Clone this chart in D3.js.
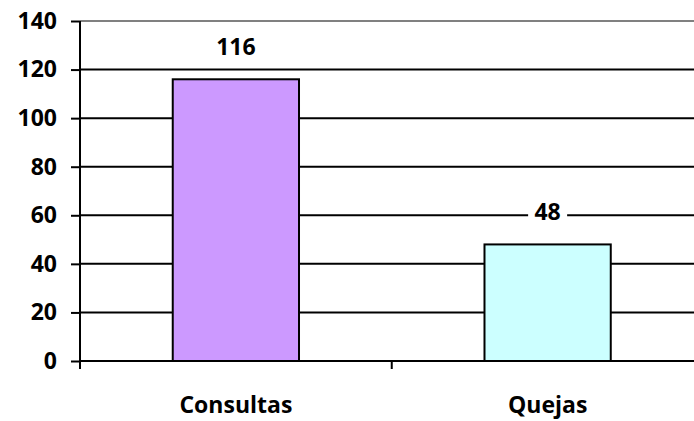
<!DOCTYPE html>
<html><head><meta charset="utf-8">
<script src="https://cdn.jsdelivr.net/npm/d3@7"></script>
<style>body{margin:0;background:#fff}svg{display:block}</style>
</head><body>
<script>
const categories = ["Consultas", "Quejas"];
const values = [116, 48];
const colors = ["#CC99FF", "#CCFFFF"];
const yTicks = [0, 20, 40, 60, 80, 100, 120, 140];

const W = 694, H = 421;
const svg = d3.select("body").append("svg").attr("width", W).attr("height", H);
const font = "'Open Sans', sans-serif";
const fs = 23;
const x = d3.scaleBand().domain(categories).range([80, 703.5]).paddingInner(0).paddingOuter(0);
const y = d3.scaleLinear().domain([0, 140]).range([361, 21]);

// gridlines
svg.append("g").selectAll("line").data(yTicks.filter(d => d > 0)).join("line")
  .attr("x1", 80).attr("x2", W + 20)
  .attr("y1", d => y(d)).attr("y2", d => y(d))
  .attr("stroke", d => d === 140 ? "#808080" : "#000").attr("stroke-width", 2);

// bars
const bw = x.bandwidth() * 0.405;
svg.append("g").selectAll("rect").data(categories).join("rect")
  .attr("x", d => x(d) + x.bandwidth() / 2 - bw / 2)
  .attr("width", bw)
  .attr("y", (d, i) => y(values[i]))
  .attr("height", (d, i) => y(0) - y(values[i]))
  .attr("fill", (d, i) => colors[i])
  .attr("stroke", "#000").attr("stroke-width", 2);

// y axis
const yAxis = svg.append("g").attr("transform", "translate(80,0)")
  .call(d3.axisLeft(y).tickValues(yTicks).tickSize(9).tickPadding(14));
yAxis.select(".domain").attr("stroke", "#000").attr("stroke-width", 2).attr("d", "M0,21V369");
yAxis.selectAll(".tick line").attr("stroke", "#000").attr("stroke-width", 2);
yAxis.selectAll("text").attr("font-family", font).attr("font-weight", 700).attr("font-size", fs).attr("fill", "#000");

// x axis
const xAxis = svg.append("g").attr("transform", "translate(0,361)")
  .call(d3.axisBottom(x).tickSize(0).tickPadding(36));
xAxis.select(".domain").attr("stroke", "#000").attr("stroke-width", 2).attr("d", "M79,0H" + (W + 20));
xAxis.selectAll("text").attr("font-family", font).attr("font-weight", 700).attr("font-size", fs).attr("fill", "#000");
// category separator ticks
svg.append("g").selectAll("line").data(categories.slice(1)).join("line")
  .attr("x1", d => x(d)).attr("x2", d => x(d))
  .attr("y1", 361).attr("y2", 369).attr("stroke", "#000").attr("stroke-width", 2);

// value labels
const lab = svg.append("g").selectAll("g").data(categories).join("g")
  .attr("transform", (d, i) => `translate(${x(d) + x.bandwidth() / 2},${y(values[i]) - 32})`);
lab.append("rect").attr("fill", "#fff")
  .attr("x", (d, i) => -(String(values[i]).length * 13.5 + 12) / 2)
  .attr("width", (d, i) => String(values[i]).length * 13.5 + 12)
  .attr("y", -17).attr("height", 36);
lab.append("text").text((d, i) => values[i])
  .attr("text-anchor", "middle").attr("dy", "0.35em")
  .attr("font-family", font).attr("font-weight", 700).attr("font-size", fs).attr("fill", "#000");
</script>
</body></html>
